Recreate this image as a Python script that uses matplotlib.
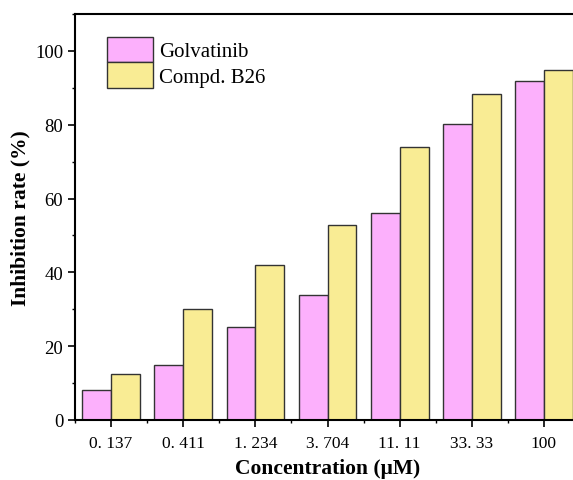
import numpy as np
import matplotlib
matplotlib.use('Agg')
import matplotlib.pyplot as plt
from matplotlib.ticker import MultipleLocator, FixedLocator

plt.rcParams['font.family'] = ['Liberation Serif', 'DejaVu Serif']

# 浓度 (μM) 与抑制率 (%)
concs = ['0. 137', '0. 411', '1. 234', '3. 704', '11. 11', '33. 33', '100']
golvatinib = [8.2, 15.0, 25.1, 34.0, 56.1, 80.1, 91.9]
b26 = [12.5, 30.1, 42.0, 52.8, 73.9, 88.2, 94.9]

fig = plt.figure(figsize=(5.73, 4.81), dpi=100)
# 右侧坐标轴被裁掉一部分，所以 axes 超出画布
ax = fig.add_axes([75 / 573, 60 / 481, 505 / 573, 406 / 481])

x = np.arange(len(concs))
w = 0.4
ax.bar(x - w / 2, golvatinib, w, color='#FCB0FC', edgecolor='#333333', linewidth=1.0, label='Golvatinib')
ax.bar(x + w / 2, b26, w, color='#F9EC94', edgecolor='#333333', linewidth=1.0, label='Compd. B26')

ax.set_xlim(-0.5, 6.5)
ax.set_ylim(0, 110)
ax.set_xticks(x)
ax.set_xticklabels(concs, fontsize=12.5)
ax.xaxis.set_minor_locator(FixedLocator(np.arange(-0.5, 7, 1)))
ax.yaxis.set_major_locator(MultipleLocator(20))
ax.yaxis.set_minor_locator(MultipleLocator(10))
ax.set_yticks([0, 20, 40, 60, 80, 100])
ax.tick_params(axis='y', labelsize=13.5)
ax.tick_params(which='major', direction='out', length=5, width=1.2)
ax.tick_params(which='minor', direction='out', length=2.5, width=1.0)
ax.tick_params(axis='x', pad=6)

for s in ['left', 'top', 'bottom']:
    ax.spines[s].set_linewidth(1.5)
ax.spines['right'].set_visible(False)

ax.set_xlabel('Concentration (μM)', fontsize=15.5, fontweight='bold', labelpad=5)
ax.set_ylabel('Inhibition rate (%)', fontsize=15.5, fontweight='bold', labelpad=3)

ax.legend(loc='upper left', bbox_to_anchor=(0.035, 0.98), frameon=False, fontsize=15,
          handlelength=2.2, handleheight=1.5, handletextpad=0.3, labelspacing=0.0,
          borderaxespad=0.3)

plt.savefig('out.png', dpi=100)
